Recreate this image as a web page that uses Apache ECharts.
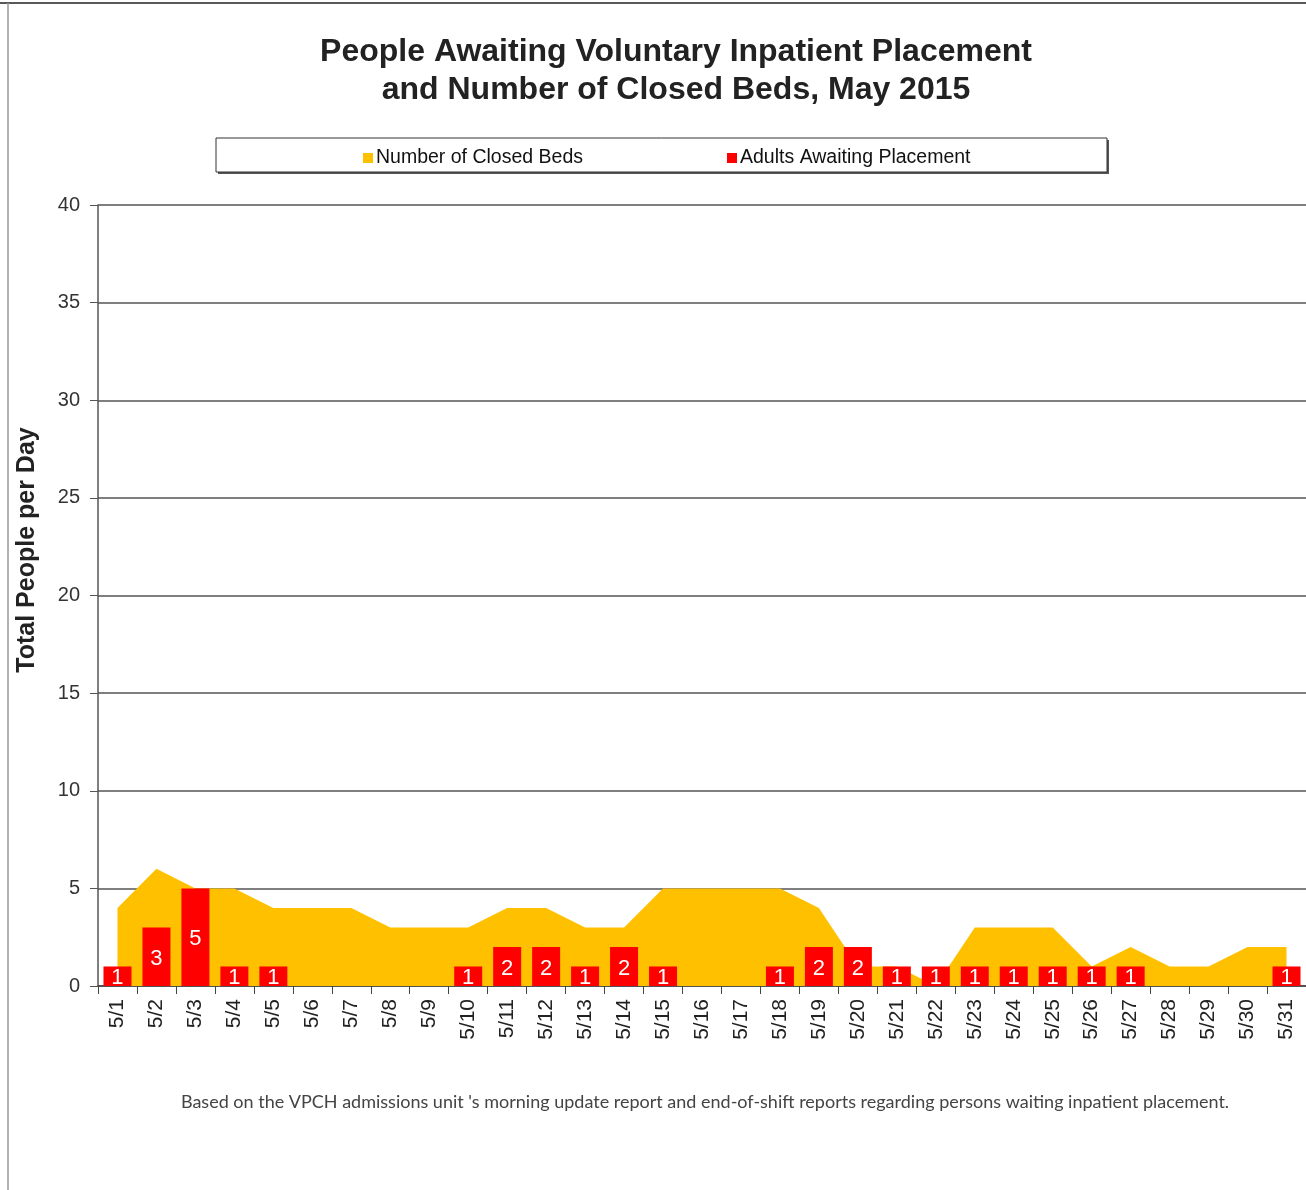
<!DOCTYPE html>
<html>
<head>
<meta charset="utf-8">
<script src="https://cdn.jsdelivr.net/npm/echarts@6/dist/echarts.min.js"></script>
<style>
  html, body { margin: 0; padding: 0; background: #fff; }
  #main { width: 1306px; height: 1190px; }
</style>
</head>
<body>
<div id="main"></div>
<script>
const days = ["5/1","5/2","5/3","5/4","5/5","5/6","5/7","5/8","5/9","5/10","5/11","5/12","5/13","5/14","5/15","5/16",
  "5/17","5/18","5/19","5/20","5/21","5/22","5/23","5/24","5/25","5/26","5/27","5/28","5/29","5/30","5/31"];
// closed beds (area)
const closedBeds = [4, 6, 5, 5, 4, 4, 4, 3, 3, 3, 4, 4, 3, 3, 5, 5, 5, 5, 4, 1, 1, 0, 3, 3, 3, 1, 2, 1, 1, 2, 2];
// adults awaiting placement (bars)
const awaiting = [1, 3, 5, 1, 1, 0, 0, 0, 0, 1, 2, 2, 1, 2, 1, 0, 0, 1, 2, 2, 1, 1, 1, 1, 1, 1, 1, 0, 0, 0, 1];
const yTicks = [0, 5, 10, 15, 20, 25, 30, 35, 40];

const titleLines = ["People Awaiting Voluntary Inpatient Placement", "and Number of Closed Beds, May 2015"];
const footnote = "Based on the VPCH admissions unit 's morning update report and end-of-shift reports regarding persons waiting inpatient placement.";

const chart = echarts.init(document.getElementById("main"));

const option = {
  animation: false,
  backgroundColor: "#fff",
  textStyle: { fontFamily: "Liberation Sans, Arial, sans-serif" },
  legend: {
    left: 358,
    top: 143,
    itemWidth: 10,
    itemHeight: 10,
    itemGap: 144,
    icon: "rect",
    textStyle: { fontSize: 19.5, color: "#111", padding: [0, 0, 0, -2] },
    data: ["Number of Closed Beds", "Adults Awaiting Placement"],
  },
  grid: { left: 98, top: 205, width: 1209, height: 781, containLabel: false },
  xAxis: {
    type: "category",
    data: days,
    boundaryGap: true,
    axisLine: { lineStyle: { color: "#444", width: 1.5 } },
    axisTick: { show: true, length: 8, lineStyle: { color: "#444" } },
    axisLabel: { rotate: 90, fontSize: 21, color: "#222", margin: 13 },
  },
  yAxis: {
    type: "value",
    min: yTicks[0],
    max: yTicks[yTicks.length - 1],
    interval: 5,
    axisLine: { show: true, lineStyle: { color: "#555", width: 1.5 } },
    axisTick: { show: true, length: 8, lineStyle: { color: "#555" } },
    axisLabel: { fontSize: 20, color: "#333", margin: 18 },
    splitLine: { lineStyle: { color: "#555", width: 1.5 } },
  },
  series: [
    {
      name: "Number of Closed Beds",
      type: "line",
      data: closedBeds,
      symbol: "none",
      lineStyle: { width: 0 },
      areaStyle: { color: "#FFC000", opacity: 1 },
      itemStyle: { color: "#FFC000" },
      z: 1,
    },
    {
      name: "Adults Awaiting Placement",
      type: "bar",
      data: awaiting,
      barWidth: 28,
      itemStyle: { color: "#FF0000" },
      label: {
        show: true,
        position: "inside",
        color: "#fff",
        fontSize: 22,
        offset: [0, 2],
        formatter: (p) => (p.value ? String(p.value) : ""),
      },
      z: 3,
    },
  ],
  graphic: [
    // page frame
    { type: "line", shape: { x1: 0, y1: 3, x2: 1306, y2: 3 }, style: { stroke: "#222", lineWidth: 1.5 } },
    { type: "line", shape: { x1: 8, y1: 3, x2: 8, y2: 1190 }, style: { stroke: "#999", lineWidth: 1.5 } },
    // title
    {
      type: "text", z: 10,
      x: 676, y: 33,
      style: {
        text: titleLines.join("\n"),
        textAlign: "center",
        font: "bold 32px 'Liberation Sans', Arial, sans-serif",
        lineHeight: 38, fill: "#222",
      },
    },
    // legend box
    {
      type: "rect", z: 0,
      shape: { x: 218, y: 140, width: 891, height: 34 },
      style: { fill: "#555" },
    },
    {
      type: "rect", z: 0,
      shape: { x: 216, y: 138, width: 891, height: 34 },
      style: { fill: "#fff", stroke: "#333", lineWidth: 1 },
    },
    // y axis title
    {
      type: "text", z: 10,
      x: 27, y: 550, rotation: Math.PI / 2,
      style: {
        text: "Total People per Day",
        textAlign: "center", textVerticalAlign: "middle",
        font: "bold 25px 'Liberation Sans', Arial, sans-serif",
        fill: "#222",
      },
    },
    // footnote
    {
      type: "text", z: 10,
      x: 705, y: 1102,
      style: {
        text: footnote,
        textAlign: "center", textVerticalAlign: "middle",
        font: "18px Lato, sans-serif",
        fill: "#444",
      },
    },
  ],
};

chart.setOption(option);
</script>
</body>
</html>
